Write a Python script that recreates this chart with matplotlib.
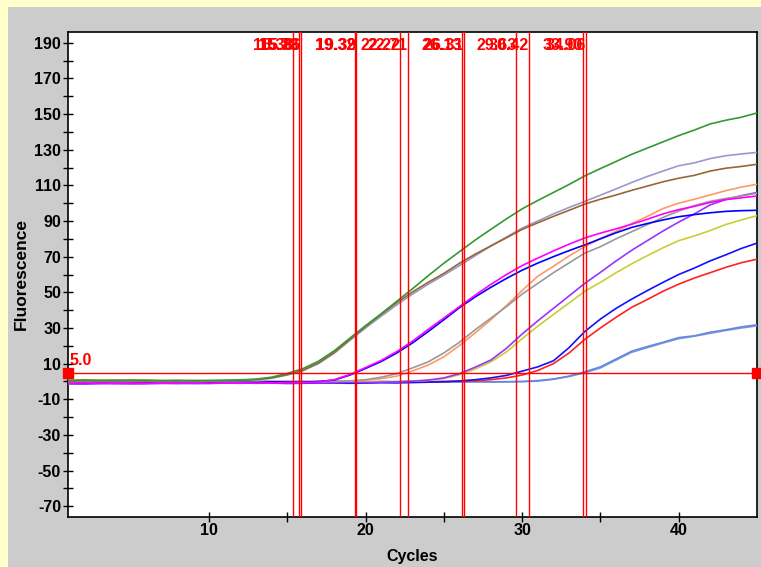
import matplotlib
matplotlib.use("Agg")
import matplotlib.pyplot as plt
from matplotlib.patches import Rectangle
import matplotlib.transforms as mtransforms

cycles = list(range(1, 46))

green = [0.6,0.8,0.7,0.6,0.8,0.7,0.5,0.6,0.5,0.6,0.7,0.9,1.3,2.4,4.5,7.2,11.4,17.2,24.3,31.3,38.0,45.0,52.0,59.3,66.3,72.8,79.3,85.3,91.2,96.8,101.5,106.0,110.5,115.3,119.4,123.4,127.4,130.9,134.4,137.9,141.0,144.4,146.5,148.2,150.6]
brown = [0.2,0.4,0.3,0.5,0.4,0.3,0.4,0.5,0.3,0.4,0.5,0.7,1.1,2.0,3.9,6.3,10.5,16.3,23.6,30.8,37.6,44.2,50.2,55.6,60.6,66.3,71.4,76.0,80.6,85.3,89.0,92.6,96.0,99.5,102.2,104.6,107.2,109.6,112.0,114.0,115.6,118.0,119.6,120.6,121.8]
lavender = [0.0,0.2,0.1,0.3,0.2,0.1,0.2,0.3,0.1,0.2,0.3,0.5,0.9,1.8,3.6,6.0,10.0,15.8,23.0,30.0,36.6,43.0,49.0,54.5,59.6,65.0,70.5,76.0,81.0,86.0,90.0,94.0,97.6,101.0,104.5,108.0,111.6,115.0,118.0,121.0,122.6,125.0,126.6,127.6,128.5]
magenta = [-0.8,-0.6,-0.9,-0.7,-0.8,-1.0,-0.7,-0.8,-0.6,-0.9,-0.8,-0.7,-0.9,-0.8,-0.7,-0.6,-0.3,1.0,3.9,7.8,11.8,16.8,22.6,29.2,35.6,42.0,48.4,54.4,60.0,65.0,69.2,73.2,77.0,80.5,83.2,85.6,88.2,91.0,94.0,96.4,98.2,100.4,102.0,103.0,104.0]
blue1 = [-0.4,-0.2,-0.5,-0.3,-0.4,-0.6,-0.3,-0.2,-0.4,-0.5,-0.3,-0.4,-0.6,-0.2,-0.3,-0.4,0.0,0.8,3.6,7.3,11.2,16.0,21.6,28.0,34.6,41.4,47.4,52.8,57.8,62.4,66.4,70.0,73.4,76.6,80.0,83.4,86.4,88.6,90.6,92.4,93.6,94.6,95.4,95.8,96.0]
gray = [0.1,-0.2,0.0,0.2,-0.1,0.1,0.0,-0.2,0.1,0.0,-0.1,0.1,0.2,0.0,-0.1,0.1,0.0,0.1,0.3,1.0,2.4,4.4,7.6,11.0,16.0,22.0,29.0,35.5,42.0,49.0,55.0,61.0,66.5,72.0,75.6,80.0,84.0,88.0,92.0,95.6,98.6,101.0,102.6,104.0,105.6]
orange = [0.8,1.0,0.7,0.9,0.6,0.8,0.5,0.4,0.6,0.3,0.2,0.4,0.1,0.0,0.2,0.1,0.0,0.1,0.2,0.7,1.6,3.0,5.9,9.2,13.8,20.2,27.2,34.6,42.6,51.0,59.0,64.6,70.4,75.6,80.2,84.2,88.6,92.6,97.0,100.0,102.2,104.6,107.0,109.0,110.6]
purple = [-1.4,-1.5,-1.3,-1.2,-1.4,-1.3,-1.1,-1.2,-1.0,-1.1,-0.9,-1.0,-0.8,-0.9,-0.7,-0.8,-0.6,-0.7,-0.5,-0.6,-0.4,-0.2,0.2,0.8,2.0,4.4,8.0,12.0,18.6,26.6,34.0,41.0,48.0,55.0,61.2,67.6,73.6,79.0,84.4,89.4,94.0,99.0,102.0,104.2,106.0]
yellow = [-0.3,-0.1,-0.4,-0.2,-0.3,-0.1,-0.2,-0.4,-0.3,-0.1,-0.2,-0.3,-0.4,-0.2,-0.1,-0.3,-0.2,-0.4,-0.3,-0.2,-0.1,-0.1,0.2,0.6,1.6,3.8,7.0,11.0,16.6,24.0,31.0,37.6,44.0,50.6,55.6,61.0,66.0,70.6,75.0,79.0,81.6,84.6,88.0,90.6,93.0]
blue2 = [-0.9,-1.0,-0.8,-1.1,-0.9,-1.0,-0.8,-0.9,-1.1,-1.0,-0.9,-0.8,-1.0,-0.9,-1.1,-1.0,-0.8,-0.9,-1.0,-0.9,-0.7,-0.8,-0.6,-0.4,-0.2,0.3,1.0,2.0,3.4,5.8,8.2,11.6,19.0,28.0,35.0,41.0,46.2,51.0,55.6,60.0,63.6,67.6,71.0,74.6,77.6]
red = [0.0,-0.2,0.1,-0.1,0.0,-0.3,-0.1,0.0,-0.2,-0.1,0.0,-0.2,-0.1,0.0,-0.3,-0.2,-0.1,0.0,-0.2,-0.1,-0.3,-0.2,-0.1,-0.2,0.0,0.1,0.3,1.0,2.0,3.6,6.2,10.0,16.0,23.6,30.0,36.0,41.6,46.0,50.6,54.6,58.0,61.0,64.0,66.6,68.6]
lightblue1 = [-0.6,-0.5,-0.7,-0.6,-0.4,-0.5,-0.6,-0.4,-0.5,-0.3,-0.4,-0.5,-0.3,-0.2,-0.4,-0.3,-0.2,-0.1,-0.3,-0.2,-0.0,-0.1,-0.0,-0.1,-0.0,-0.2,-0.1,-0.2,-0.1,0.0,0.5,1.4,3.0,5.4,8.2,12.6,17.0,19.6,22.0,24.6,25.6,27.6,29.0,30.6,31.8]
lightblue2 = [-0.8,-0.7,-0.9,-0.8,-0.6,-0.7,-0.8,-0.6,-0.7,-0.5,-0.6,-0.7,-0.5,-0.4,-0.6,-0.5,-0.4,-0.3,-0.5,-0.4,-0.2,-0.3,-0.2,-0.1,-0.2,-0.3,-0.2,-0.3,-0.2,-0.1,0.2,1.2,2.8,4.9,7.6,12.0,16.4,19.0,21.6,24.0,25.4,27.0,28.6,30.0,31.2]

series = [
    (lightblue2, '#7799DD'), (lightblue1, '#6688DD'),
    (red, '#FF2222'), (blue2, '#1111FF'),
    (yellow, '#CCCC33'), (purple, '#9933FF'),
    (orange, '#FF9966'), (gray, '#999999'),
    (blue1, '#0000FF'), (magenta, '#FF00FF'),
    (lavender, '#9999CC'), (brown, '#996633'), (green, '#339933'),
]

ct_values = [15.38, 15.73, 15.86, 19.32, 19.39, 22.22, 22.71, 26.13, 26.31, 29.63, 30.42, 33.90, 34.06]
ct_labels = ["15.38", "15.73", "15.86", "19.32", "19.39", "22.22", "22.71", "26.13", "26.31", "29.63", "30.42", "33.90", "34.06"]
threshold = 5.0

x_ticks = [10, 20, 30, 40]
x_minor = [15, 25, 35]
y_ticks = [190, 170, 150, 130, 110, 90, 70, 50, 30, 10, -10, -30, -50, -70]
y_minor = [180, 160, 140, 120, 100, 80, 60, 40, 20, 0, -20, -40, -60]

plt.rcParams['font.family'] = ['Liberation Sans', 'DejaVu Sans']
plt.rcParams['font.weight'] = 'bold'
plt.rcParams['axes.unicode_minus'] = False

W, H = 761, 567
fig = plt.figure(figsize=(W / 100, H / 100), dpi=100, facecolor='#FFFFCC')
fig.patches.append(Rectangle((8 / W, 0), 1, (H - 7) / H, transform=fig.transFigure,
                             facecolor='#CCCCCC', edgecolor='none', zorder=-10))

ax = fig.add_axes([68 / W, 1 - 517 / H, (757 - 68) / W, (517 - 32) / H])
ax.set_zorder(5)
ax.set_facecolor('white')
ax.set_xlim(1, 45)
ax.set_ylim(-76, 196)

for vals, col in series:
    ax.plot(cycles, vals, color=col, lw=1.2, zorder=3)

for ct in ct_values:
    ax.axvline(ct, color='#FF0000', lw=1.0, zorder=4)

ax.axhline(threshold, color='#FF0000', lw=1.0, zorder=4)
ax.plot([1, 45], [threshold, threshold], ls='none', marker='s', ms=7,
        color='#FF0000', clip_on=False, zorder=6)
ax.annotate(f"{threshold:.1f}", (1, threshold), xytext=(1, 3), textcoords='offset points',
            ha='left', va='bottom', color='#FF0000', fontsize=11.5, fontweight='bold')

trans = mtransforms.blended_transform_factory(ax.transData, ax.transAxes)
for ct, lab in zip(ct_values, ct_labels):
    ax.text(ct, 0.988, lab, transform=trans, ha='right', va='top', color='#FF0000',
            fontsize=11.5, fontweight='bold', zorder=5)

ax.set_xticks(x_ticks)
ax.set_xticks(x_minor, minor=True)
ax.set_yticks(y_ticks)
ax.set_yticks(y_minor, minor=True)
ax.tick_params(axis='both', which='both', direction='inout', length=7, width=1, color='black',
               labelsize=11.5)
ax.tick_params(axis='x', which='major', pad=0.5)
ax.tick_params(axis='y', which='major', pad=1.5)
for lab in ax.get_xticklabels() + ax.get_yticklabels():
    lab.set_fontweight('bold')

for s in ax.spines.values():
    s.set_color('black')
    s.set_linewidth(1.2)

ax.set_xlabel('Cycles', fontsize=11.5, fontweight='bold', labelpad=8)
ax.set_ylabel('Fluorescence', fontsize=12.5, fontweight='bold', labelpad=4)

fig.savefig('out.png', dpi=100, facecolor=fig.get_facecolor())
